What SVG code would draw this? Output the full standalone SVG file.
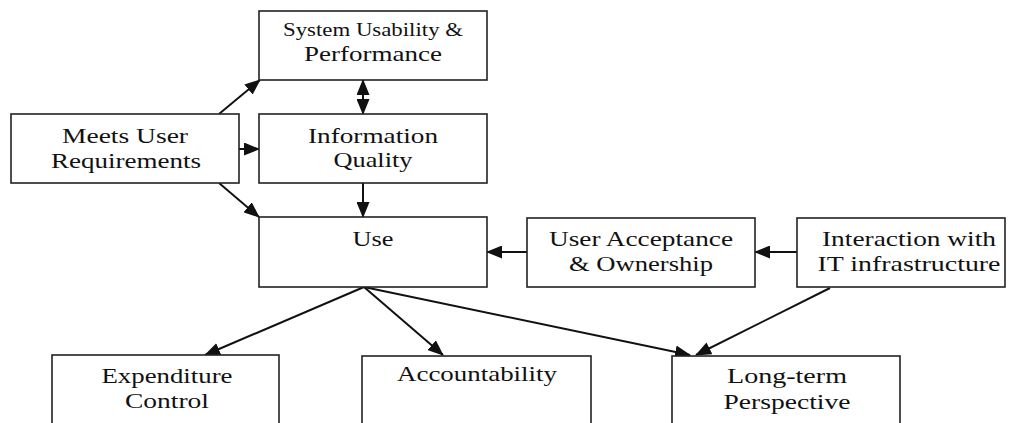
<svg xmlns="http://www.w3.org/2000/svg" width="1013" height="423" viewBox="0 0 1013 423">
<style>
.box{fill:#fff;stroke:#222;stroke-width:1.6}
.t{font-family:"Liberation Serif","Times New Roman",serif;font-size:22px;fill:#111;text-anchor:middle}
.s{font-size:19px}
.c{stroke:#111;stroke-width:2;fill:none;marker-end:url(#ah)}
</style>
<defs>
<marker id="ah" markerUnits="userSpaceOnUse" markerWidth="16" markerHeight="13" refX="15" refY="6.5" orient="auto-start-reverse" viewBox="0 0 16 13">
<path d="M0,0 L16,6.5 L0,13 z" fill="#111"/>
</marker>
</defs>
<rect width="1013" height="423" fill="#fff"/>
<g id="connectors">
<line class="c" x1="219" y1="114" x2="260" y2="80"/>
<line class="c" x1="239" y1="149" x2="259" y2="149"/>
<line class="c" x1="219" y1="183" x2="259" y2="217"/>
<line class="c" x1="363" y1="80" x2="363" y2="114" style="marker-start:url(#ah)"/>
<line class="c" x1="363" y1="183" x2="363" y2="217"/>
<line class="c" x1="527" y1="252" x2="487" y2="252"/>
<line class="c" x1="797" y1="252" x2="755" y2="252"/>
<line class="c" x1="364" y1="287" x2="205" y2="355"/>
<line class="c" x1="364" y1="287" x2="443" y2="355"/>
<line class="c" x1="364" y1="287" x2="690" y2="355"/>
<line class="c" x1="830" y1="288" x2="696" y2="355"/>
</g>
<g id="system-usability">
<rect class="box" x="259" y="11" width="228" height="69"/>
<text class="t s" x="373" y="36" textLength="180" lengthAdjust="spacingAndGlyphs">System Usability &amp;</text>
<text class="t" x="373" y="61" textLength="138" lengthAdjust="spacingAndGlyphs">Performance</text>
</g>
<g id="meets-user">
<rect class="box" x="11" y="114" width="228" height="69"/>
<text class="t" x="125" y="143" textLength="126" lengthAdjust="spacingAndGlyphs">Meets User</text>
<text class="t" x="126" y="168" textLength="150" lengthAdjust="spacingAndGlyphs">Requirements</text>
</g>
<g id="information-quality">
<rect class="box" x="259" y="114" width="228" height="69"/>
<text class="t" x="373" y="143" textLength="130" lengthAdjust="spacingAndGlyphs">Information</text>
<text class="t" x="373" y="167" textLength="79" lengthAdjust="spacingAndGlyphs">Quality</text>
</g>
<g id="use">
<rect class="box" x="259" y="217" width="228" height="70"/>
<text class="t" x="373" y="246" textLength="41" lengthAdjust="spacingAndGlyphs">Use</text>
</g>
<g id="user-acceptance">
<rect class="box" x="527" y="218" width="228" height="69"/>
<text class="t" x="641" y="246" textLength="184" lengthAdjust="spacingAndGlyphs">User Acceptance</text>
<text class="t" x="641" y="271" textLength="144" lengthAdjust="spacingAndGlyphs">&amp; Ownership</text>
</g>
<g id="interaction">
<rect class="box" x="797" y="218" width="208" height="69"/>
<text class="t" x="909" y="246" textLength="174" lengthAdjust="spacingAndGlyphs">Interaction with</text>
<text class="t" x="909" y="271" textLength="183" lengthAdjust="spacingAndGlyphs">IT infrastructure</text>
</g>
<g id="expenditure">
<rect class="box" x="52" y="355" width="227" height="80"/>
<text class="t" x="167" y="383" textLength="131" lengthAdjust="spacingAndGlyphs">Expenditure</text>
<text class="t" x="167" y="408" textLength="84" lengthAdjust="spacingAndGlyphs">Control</text>
</g>
<g id="accountability">
<rect class="box" x="362" y="356" width="229" height="80"/>
<text class="t" x="477" y="381" textLength="160" lengthAdjust="spacingAndGlyphs">Accountability</text>
</g>
<g id="long-term">
<rect class="box" x="672" y="356" width="228" height="80"/>
<text class="t" x="787" y="383" textLength="120" lengthAdjust="spacingAndGlyphs">Long-term</text>
<text class="t" x="787" y="409" textLength="127" lengthAdjust="spacingAndGlyphs">Perspective</text>
</g>
</svg>
